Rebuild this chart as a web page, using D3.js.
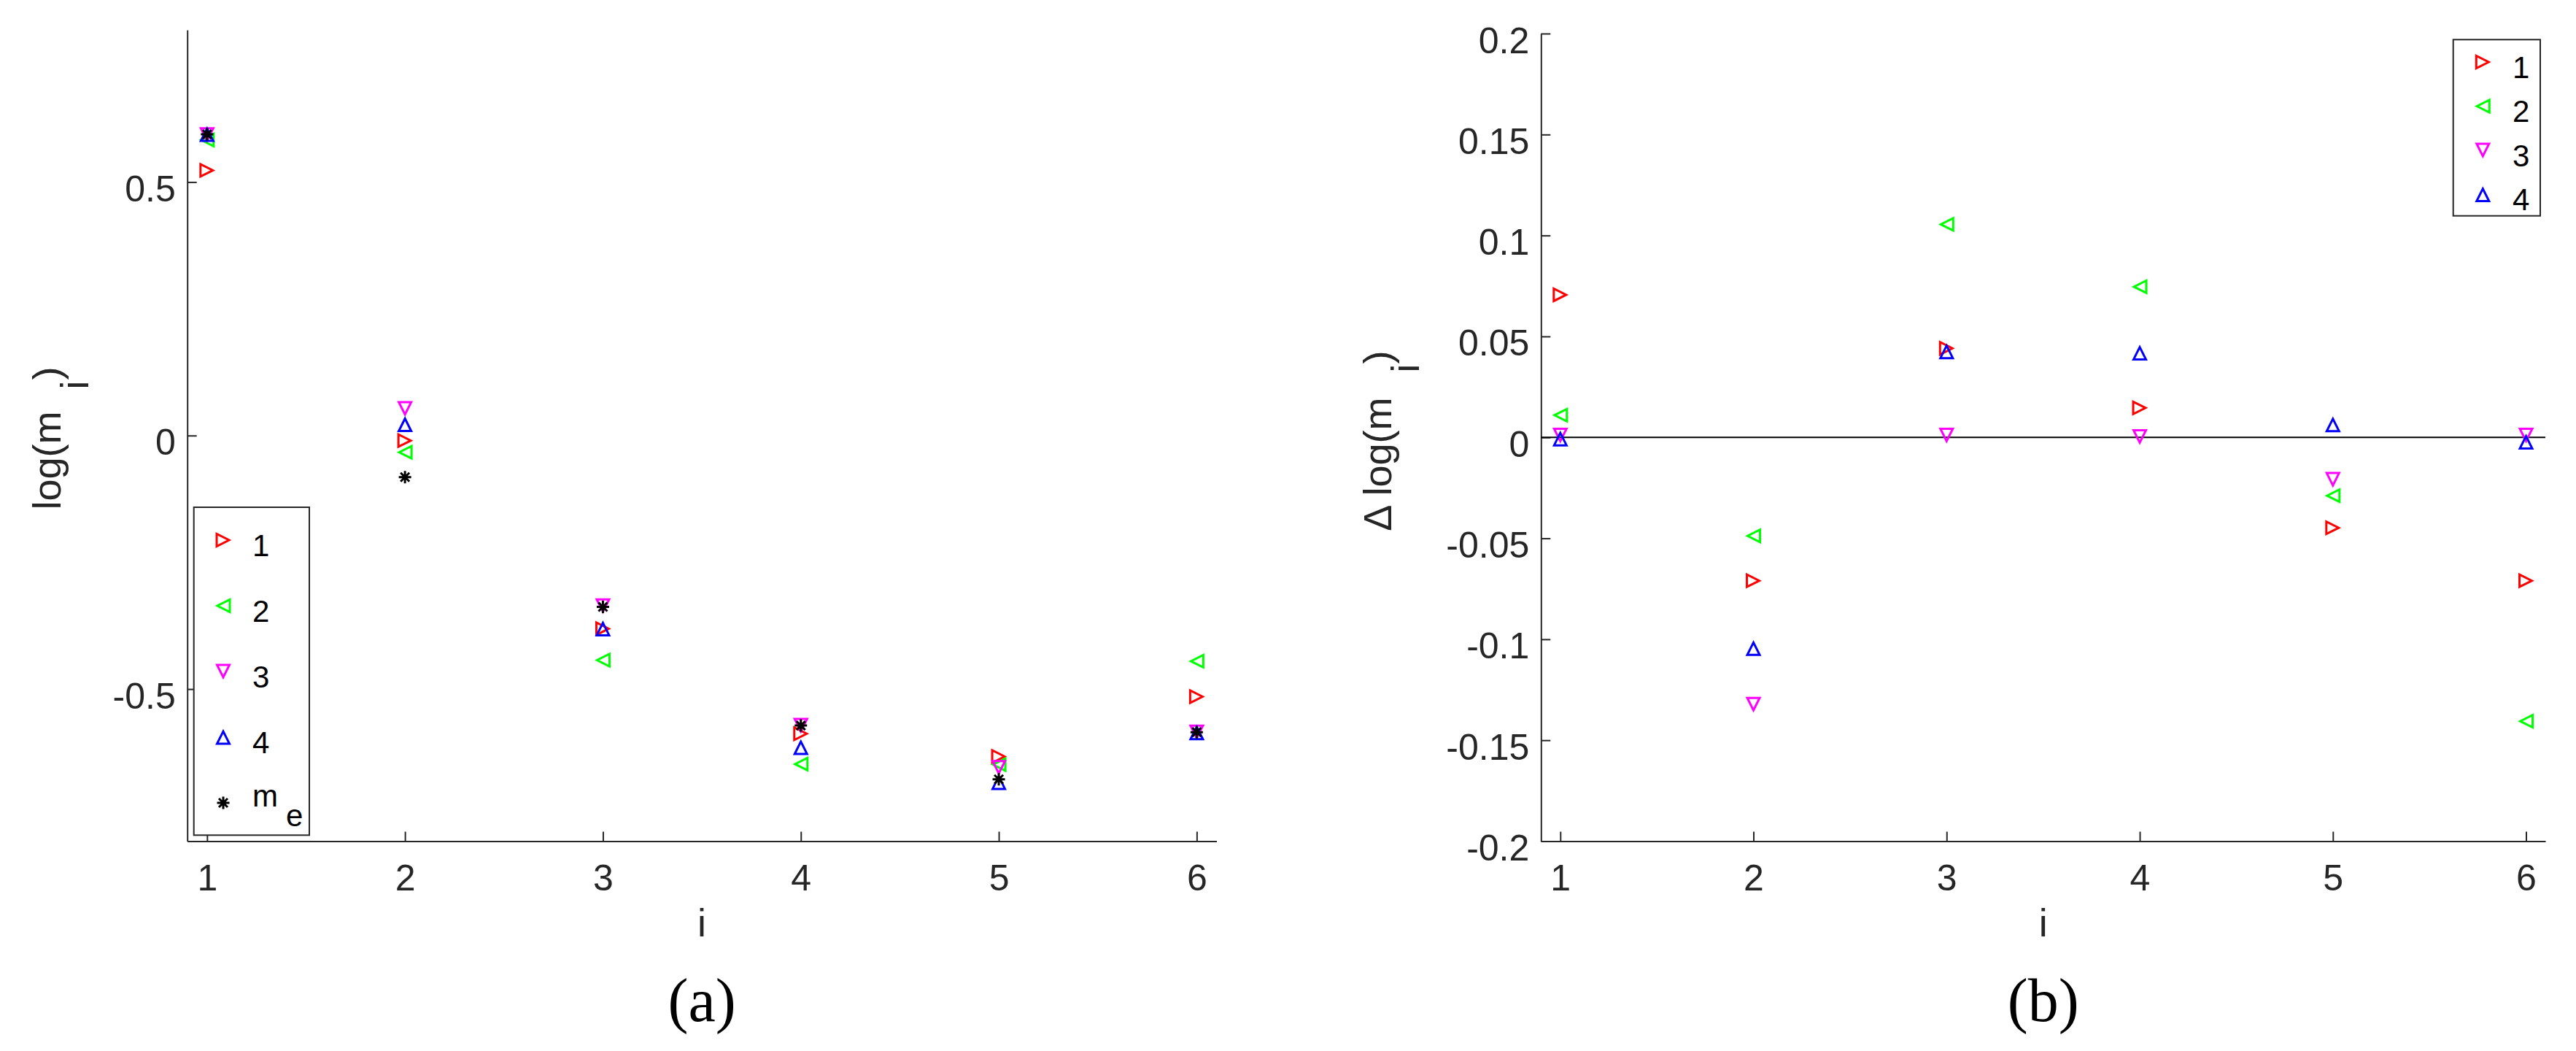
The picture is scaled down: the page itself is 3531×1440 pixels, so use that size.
<!DOCTYPE html>
<html>
<head>
<meta charset="utf-8">
<script src="https://d3js.org/d3.v7.min.js"></script>
<style>
body { margin: 0; background: #fff; }
svg text { font-family: "Liberation Sans", Arial, Helvetica, sans-serif; }
</style>
</head>
<body>
<div id="chart"></div>
<script>
var W = 3531, H = 1440;

// i = 1..6
var idx = [1, 2, 3, 4, 5, 6];

// panel (a): log(m_i) of the four fits and of m_e
var logA1 = [0.523, -0.010, -0.381, -0.588, -0.633, -0.515];
var logA2 = [0.583, -0.033, -0.443, -0.648, -0.649, -0.445];
var logA3 = [0.593, 0.053, -0.336, -0.572, -0.655, -0.585];
var logA4 = [0.594, 0.022, -0.381, -0.615, -0.684, -0.586];
var logMe = [0.594, -0.082, -0.338, -0.572, -0.678, -0.585];

// panel (b): delta log(m_i)
var dB1 = [0.0706, -0.0710, 0.0441, 0.0146, -0.0448, -0.0710];
var dB2 = [0.0110, -0.0488, 0.1055, 0.0746, -0.0289, -0.1406];
var dB3 = [0.0010, -0.1323, 0.0010, 0.0003, -0.0209, 0.0010];
var dB4 = [-0.0007, -0.1045, 0.0425, 0.0418, 0.0063, -0.0023];

var seriesNames = ["1", "2", "3", "4"];
var seriesColors = ["#ff0000", "#00ff00", "#ff00ff", "#0000ff"];
var seriesShapes = ["right", "left", "down", "up"];

var xTicks = [1, 2, 3, 4, 5, 6];
var yTicksA = [-0.5, 0, 0.5];
var yTicksB = [-0.2, -0.15, -0.1, -0.05, 0, 0.05, 0.1, 0.15, 0.2];

var axisColor = "#262626";

var svg = d3.select("#chart").append("svg")
    .attr("width", W)
    .attr("height", H);

// scales
var xA = d3.scaleLinear().domain([0.9, 6.1]).range([256.7, 1667.5]);
var yA = d3.scaleLinear().domain([-0.8, 0.8]).range([1152.5, 41]);
var xB = d3.scaleLinear().domain([0.9, 6.1]).range([2112.3, 3489]);
var yB = d3.scaleLinear().domain([-0.2, 0.2]).range([1152.5, 46]);

// matlab-like marker outlines
function markerPath(shape) {
    if (shape === "up") return "M-8.5,9L8.5,9L0,-8Z";
    if (shape === "down") return "M-8.5,-9L8.5,-9L0,8Z";
    if (shape === "right") return "M-9,-8.5L-9,8.5L8,0Z";
    if (shape === "left") return "M9,-8.5L9,8.5L-8,0Z";
    return "M-8.5,0H8.5M0,-8.5V8.5M-6,-6L6,6M-6,6L6,-6"; // asterisk
}

function drawAxes(x, y, yTicks) {
    var gx = svg.append("g")
        .attr("transform", "translate(0," + y.range()[0] + ")")
        .call(d3.axisBottom(x).tickValues(xTicks).tickSizeInner(-13)
            .tickSizeOuter(0).tickPadding(32).tickFormat(function (d) { return String(d); }));
    var gy = svg.append("g")
        .attr("transform", "translate(" + x.range()[0] + ",0)")
        .call(d3.axisLeft(y).tickValues(yTicks).tickSizeInner(-13)
            .tickSizeOuter(0).tickPadding(16).tickFormat(function (d) { return String(d); }));
    gy.selectAll("text").attr("dy", 26);
    [gx, gy].forEach(function (g) {
        g.attr("font-family", null).attr("font-size", 50);
        g.select(".domain").attr("stroke", axisColor).attr("stroke-width", 2);
        g.selectAll(".tick line").attr("stroke", axisColor).attr("stroke-width", 2);
        g.selectAll(".tick text").attr("fill", axisColor)
            .style("font-family", "'Liberation Sans', Arial, sans-serif");
    });
    // x label
    svg.append("text")
        .attr("x", (x.range()[0] + x.range()[1]) / 2)
        .attr("y", 1282.5)
        .attr("text-anchor", "middle")
        .attr("font-size", 54)
        .attr("fill", axisColor)
        .text("i");
}

function drawSeries(x, y, vals, color, shape) {
    svg.append("g").selectAll("path")
        .data(vals)
        .enter().append("path")
        .attr("transform", function (d, i) { return "translate(" + x(idx[i]) + "," + y(d) + ")"; })
        .attr("d", markerPath(shape))
        .attr("fill", "none")
        .attr("stroke", color)
        .attr("stroke-width", 3);
}

// ---------- panel (a)
drawAxes(xA, yA, yTicksA);

var seriesA = [logA1, logA2, logA3, logA4];
seriesA.forEach(function (s, k) { drawSeries(xA, yA, s, seriesColors[k], seriesShapes[k]); });
drawSeries(xA, yA, logMe, "#000000", "star");

// y label a
var labA = svg.append("text")
    .attr("transform", "translate(82.7,698.6) rotate(-90)")
    .attr("font-size", 54)
    .attr("fill", axisColor)
    .text("log(m");
labA.append("tspan").attr("dx", 30).attr("dy", 38).text("i");
labA.append("tspan").attr("dx", 1).attr("dy", -38).text(")");

// legend a
var legA = svg.append("g");
legA.append("rect")
    .attr("x", 265.7).attr("y", 695)
    .attr("width", 158.3).attr("height", 449.3)
    .attr("fill", "#fff")
    .attr("stroke", axisColor)
    .attr("stroke-width", 2);
seriesNames.forEach(function (n, k) {
    var cy = 740 + k * 90;
    legA.append("path")
        .attr("transform", "translate(306," + cy + ")")
        .attr("d", markerPath(seriesShapes[k]))
        .attr("fill", "none")
        .attr("stroke", seriesColors[k])
        .attr("stroke-width", 3);
    legA.append("text")
        .attr("x", 346).attr("y", cy + 22)
        .attr("font-size", 42)
        .attr("fill", "#000")
        .text(n);
});
legA.append("path")
    .attr("transform", "translate(306,1100)")
    .attr("d", markerPath("star"))
    .attr("fill", "none")
    .attr("stroke", "#000")
    .attr("stroke-width", 3);
var meText = legA.append("text")
    .attr("x", 346).attr("y", 1105)
    .attr("font-size", 42)
    .attr("fill", "#000")
    .text("m");
meText.append("tspan").attr("dx", 11).attr("dy", 27).text("e");

svg.append("text")
    .attr("x", (xA.range()[0] + xA.range()[1]) / 2)
    .attr("y", 1399)
    .attr("text-anchor", "middle")
    .attr("font-size", 84)
    .attr("fill", "#000")
    .style("font-family", "'Liberation Serif', 'Times New Roman', serif")
    .text("(a)");

// ---------- panel (b)
drawAxes(xB, yB, yTicksB);

// zero reference line
svg.append("line")
    .attr("x1", xB(0.9)).attr("x2", xB(6.1))
    .attr("y1", yB(0)).attr("y2", yB(0))
    .attr("stroke", "#000")
    .attr("stroke-width", 2);

var seriesB = [dB1, dB2, dB3, dB4];
seriesB.forEach(function (s, k) { drawSeries(xB, yB, s, seriesColors[k], seriesShapes[k]); });

// y label b
var labB = svg.append("text")
    .attr("transform", "translate(1906.7,727.7) rotate(-90)")
    .attr("font-size", 54)
    .attr("fill", axisColor)
    .text("\u0394 log(m");
labB.append("tspan").attr("dx", 34).attr("dy", 38).text("i");
labB.append("tspan").attr("dx", 0).attr("dy", -38).text(")");

// legend b
var legB = svg.append("g");
legB.append("rect")
    .attr("x", 3362.7).attr("y", 54.3)
    .attr("width", 119.3).attr("height", 241.4)
    .attr("fill", "#fff")
    .attr("stroke", axisColor)
    .attr("stroke-width", 2);
seriesNames.forEach(function (n, k) {
    var cy = 85 + k * 60.5;
    legB.append("path")
        .attr("transform", "translate(3403.3," + cy + ")")
        .attr("d", markerPath(seriesShapes[k]))
        .attr("fill", "none")
        .attr("stroke", seriesColors[k])
        .attr("stroke-width", 3);
    legB.append("text")
        .attr("x", 3444).attr("y", cy + 21.5)
        .attr("font-size", 42)
        .attr("fill", "#000")
        .text(n);
});

svg.append("text")
    .attr("x", (xB.range()[0] + xB.range()[1]) / 2)
    .attr("y", 1399)
    .attr("text-anchor", "middle")
    .attr("font-size", 84)
    .attr("fill", "#000")
    .style("font-family", "'Liberation Serif', 'Times New Roman', serif")
    .text("(b)");
</script>
</body>
</html>
